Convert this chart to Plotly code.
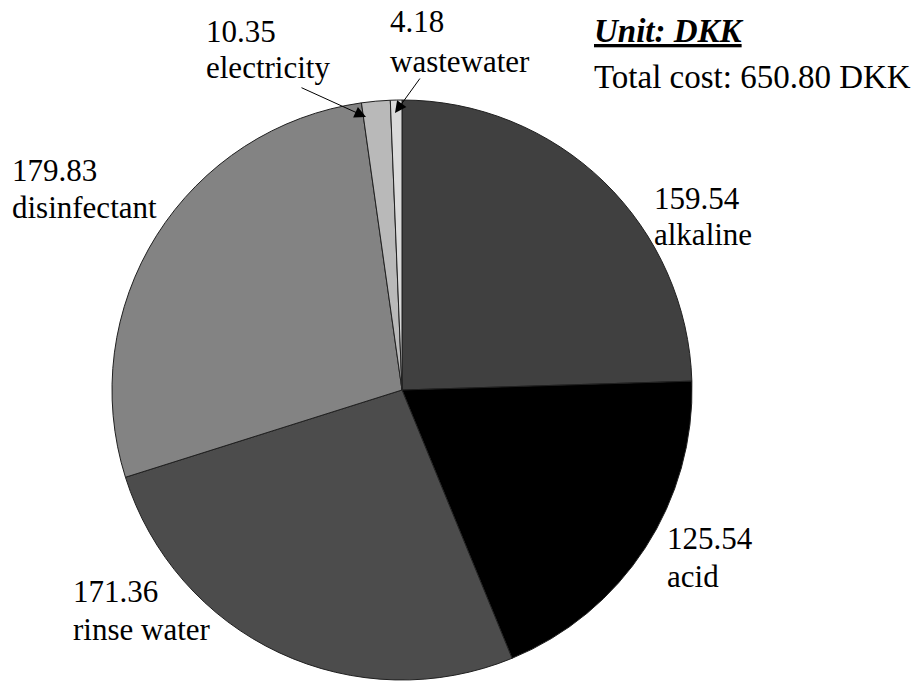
import plotly.graph_objects as go

# Cleaning cost breakdown (DKK)
categories = ["alkaline", "acid", "rinse water", "disinfectant", "electricity", "wastewater"]
costs = [159.54, 125.54, 171.36, 179.83, 10.35, 4.18]
slice_colors = ["#404040", "#000000", "#4c4c4c", "#838383", "#b9b9b9", "#dadada"]
total_cost = 650.80

W, H = 918, 684
FONT = '"Times New Roman", "Liberation Serif", Times, serif'
LABEL_SIZE = 31
NOTE_SIZE = 33


def px(x):
    return x / W


def py(y):
    return 1 - y / H


def text_line(text, x_left, baseline, size, **extra):
    """Single line of text placed by its left edge and baseline (pixels)."""
    return dict(
        text=text,
        xref="paper", yref="paper",
        x=px(x_left - 3), y=py(baseline - 0.97 * size),
        xanchor="left", yanchor="top", align="left",
        showarrow=False,
        font=dict(family=FONT, size=size, color="black"),
        **extra,
    )


# pie centre and radius in pixels
cx, cy, r = 402, 390, 290

fig = go.Figure(
    go.Pie(
        labels=categories,
        values=costs,
        sort=False,
        direction="clockwise",
        rotation=0,
        textinfo="none",
        hoverinfo="label+value",
        marker=dict(colors=slice_colors, line=dict(color="#202020", width=1)),
        domain=dict(x=[px(cx - r), px(cx + r)], y=[py(cy + r), py(cy - r)]),
        showlegend=False,
    )
)

# label layout: left x, baseline of value line, baseline of name line (pixels)
label_pos = {
    "alkaline": (655, 209, 245),
    "acid": (668, 549, 587),
    "rinse water": (74, 602, 640),
    "disinfectant": (13, 181, 218),
    "electricity": (207, 42, 78),
    "wastewater": (391, 32, 72),
}

annotations = []
for name, val in zip(categories, costs):
    x0, b1, b2 = label_pos[name]
    annotations.append(text_line(f"{val:.2f}", x0, b1, LABEL_SIZE))
    annotations.append(text_line(name, x0, b2, LABEL_SIZE))

# leader arrows for the two thin slices: (head x, head y, tail x, tail y)
arrows = [(366, 117, 300, 87), (395, 113, 421, 77)]
for hx, hy, tx, ty in arrows:
    annotations.append(
        dict(
            text="",
            xref="paper", yref="paper",
            x=px(hx), y=py(hy),
            ax=tx - hx, ay=ty - hy,
            showarrow=True, arrowhead=2, arrowsize=2.3, arrowwidth=1,
            arrowcolor="black",
        )
    )

annotations.append(text_line("<b><i><u>Unit: DKK</u></i></b>", 595, 43, NOTE_SIZE))
annotations.append(text_line(f"Total cost: {total_cost:.2f} DKK", 595, 89, NOTE_SIZE))

fig.update_layout(
    width=W, height=H,
    margin=dict(l=0, r=0, t=0, b=0),
    paper_bgcolor="white",
    plot_bgcolor="white",
    font=dict(family=FONT),
    annotations=annotations,
)

fig.write_html("out.html")
